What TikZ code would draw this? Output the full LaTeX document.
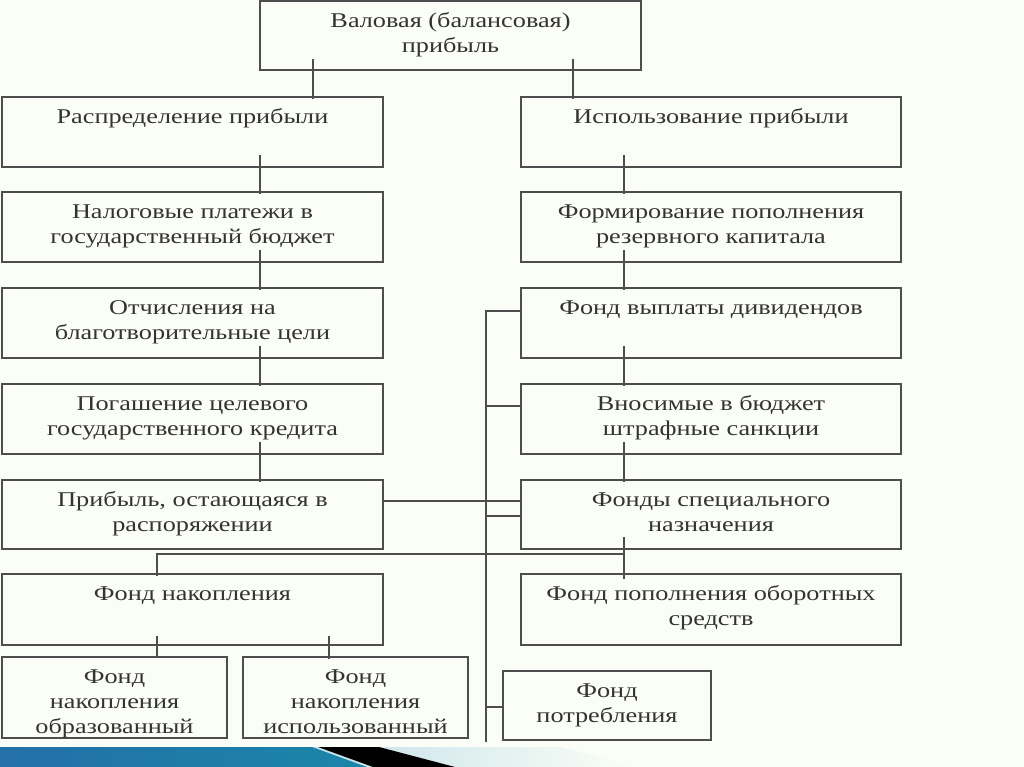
\documentclass[tikz,border=0pt]{standalone}
\usepackage{fontspec}
\setmainfont[FakeStretch=1.25]{Liberation Serif}
\usetikzlibrary{calc}
\definecolor{bg}{HTML}{FBFEF6}
\definecolor{edge}{HTML}{4D4D4D}
\definecolor{ink}{HTML}{333333}
\definecolor{bardark}{HTML}{2470A8}
\definecolor{barlight}{HTML}{5CBADF}
\definecolor{barteal}{HTML}{1A86A8}
\definecolor{barpale}{HTML}{C3E0EA}
\newcommand{\boxtext}[3]{\parbox[t][#2][t]{#1}{\centering\strut #3}}
\tikzset{
	box/.style={draw=edge, line width=1.6pt, inner xsep=0pt, inner ysep=9pt, text=ink,
		font=\fontsize{21}{25}\selectfont},
	link/.style={draw=edge, line width=1.6pt}
}
\begin{document}
\begin{tikzpicture}[x=1pt, y=-1pt]
		\useasboundingbox (0, 0) rectangle (1024, 767);
		\fill [bg] (0, 0) rectangle (1024, 767);
		% bottom bar
		\shade [left color=barpale, right color=bg] (300, 747) -- (560, 747) -- (640, 767) -- (360, 767) -- cycle;
		\shade [left color=bardark, middle color=barlight, right color=barteal] (0, 747) -- (312, 747) -- (367, 767) -- (0, 767) -- cycle;
		\fill [black] (318, 747) -- (379, 747) -- (455, 767) -- (373, 767) -- cycle;
		% boxes
		\node [box] at (450.5, 35.5) (gross) {\boxtext{381pt}{51pt}{Валовая (балансовая)\\прибыль}};
		\node [box] at (192.5, 132) (dist) {\boxtext{381pt}{52pt}{Распределение прибыли}};
		\node [box] at (711, 132) (use) {\boxtext{380pt}{52pt}{Использование прибыли}};
		\node [box] at (192.5, 227) (tax) {\boxtext{381pt}{52pt}{Налоговые платежи в\\государственный бюджет}};
		\node [box] at (711, 227) (reserve) {\boxtext{380pt}{52pt}{Формирование пополнения\\резервного капитала}};
		\node [box] at (192.5, 323) (charity) {\boxtext{381pt}{52pt}{Отчисления на\\благотворительные цели}};
		\node [box] at (711, 323) (divid) {\boxtext{380pt}{52pt}{Фонд выплаты дивидендов}};
		\node [box] at (192.5, 419) (credit) {\boxtext{381pt}{52pt}{Погашение целевого\\государственного кредита}};
		\node [box] at (711, 419) (fines) {\boxtext{380pt}{52pt}{Вносимые в бюджет\\штрафные санкции}};
		\node [box] at (192.5, 514.5) (retain) {\boxtext{381pt}{51pt}{Прибыль, остающаяся в\\распоряжении}};
		\node [box] at (711, 514.5) (special) {\boxtext{380pt}{51pt}{Фонды специального\\назначения}};
		\node [box] at (192.5, 609.5) (accum) {\boxtext{381pt}{53pt}{Фонд накопления}};
		\node [box] at (711, 609.5) (circul) {\boxtext{380pt}{53pt}{Фонд пополнения оборотных\\средств}};
		\node [box] at (114.5, 697.5) (formed) {\boxtext{225pt}{63pt}{Фонд\\накопления\\образованный}};
		\node [box] at (355.5, 697.5) (spent) {\boxtext{225pt}{63pt}{Фонд\\накопления\\использованный}};
		\node [box] at (607, 705.5) (consume) {\boxtext{208pt}{51pt}{Фонд\\потребления}};
		% line positions
		\coordinate (gl) at (313, 0);
		\coordinate (gr) at (573, 0);
		\coordinate (lbus) at (260, 0);
		\coordinate (rbus) at (624, 0);
		\coordinate (mbus) at (486, 0);
		\coordinate (al) at (157, 0);
		\coordinate (ar) at (329, 0);
		% connectors
		\draw [link] ($(gross.south -| gl)+(0, -12)$) -- ($(dist.north -| gl)+(0, 3)$);
		\draw [link] ($(gross.south -| gr)+(0, -12)$) -- ($(use.north -| gr)+(0, 3)$);
		\draw [link] ($(dist.south -| lbus)+(0, -13)$) -- ($(tax.north -| lbus)+(0, 3)$);
		\draw [link] ($(tax.south -| lbus)+(0, -13)$) -- ($(charity.north -| lbus)+(0, 3)$);
		\draw [link] ($(charity.south -| lbus)+(0, -13)$) -- ($(credit.north -| lbus)+(0, 3)$);
		\draw [link] ($(credit.south -| lbus)+(0, -13)$) -- ($(retain.north -| lbus)+(0, 3)$);
		\draw [link] ($(use.south -| rbus)+(0, -13)$) -- ($(reserve.north -| rbus)+(0, 3)$);
		\draw [link] ($(reserve.south -| rbus)+(0, -13)$) -- ($(divid.north -| rbus)+(0, 3)$);
		\draw [link] ($(divid.south -| rbus)+(0, -13)$) -- ($(fines.north -| rbus)+(0, 3)$);
		\draw [link] ($(fines.south -| rbus)+(0, -13)$) -- ($(special.north -| rbus)+(0, 3)$);
		\draw [link] ($(special.south -| rbus)+(0, -13)$) -- ($(circul.north -| rbus)+(0, 6)$);
		\draw [link] ($(divid.north west)+(0, 24)$) -| ($(formed.south -| mbus)+(0, 3)$);
		\draw [link] ($(fines.north west)+(0, 23)$) coordinate (f1) -- (f1 -| mbus);
		\draw [link] ($(retain.north east)+(0, 22)$) coordinate (r1) -- (r1 -| special.west);
		\draw [link] ($(special.north west)+(0, 37)$) coordinate (s1) -- (s1 -| mbus);
		\draw [link] ($(consume.north west)+(0, 37)$) coordinate (c1) -- (c1 -| mbus);
		\draw [link] ($(accum.north -| al)+(0, 3)$) |- ($(special.south -| rbus)+(0, 4)$);
		\draw [link] ($(accum.south -| al)+(0, -10)$) -- ($(formed.north -| al)+(0, 2)$);
		\draw [link] ($(accum.south -| ar)+(0, -10)$) -- ($(spent.north -| ar)+(0, 3)$);
	\end{tikzpicture}
\end{document}
